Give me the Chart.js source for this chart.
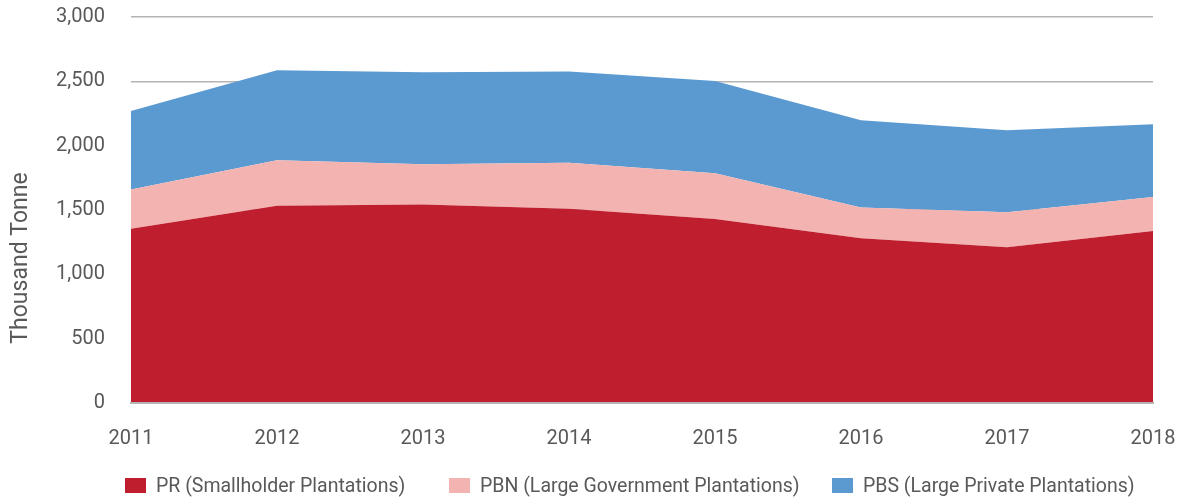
<!DOCTYPE html>
<html lang="en">
<head>
<meta charset="UTF-8">
<title>Palm oil production by plantation type</title>
<script src="https://cdn.jsdelivr.net/npm/chart.js"></script>
<style>
    body { margin: 0; background: #fff; font-family: Roboto, sans-serif; }
    .wrap { position: relative; width: 1181px; height: 501px; }
    .legend { position: absolute; top: 475px; left: 0; width: 1181px; height: 22px; }
    .legend span.item { position: absolute; top: 0; white-space: nowrap; font-size: 19.5px; color: #595959; line-height: 22px; }
    .legend span.box { display: inline-block; width: 21px; height: 15px; vertical-align: -1px; margin-right: 10px; }
</style>
</head>
<body>
<div class="wrap">
    <canvas id="chart" width="1181" height="501"></canvas>
    <div class="legend" id="legend"></div>
</div>
<script>
// values (thousand tonne)
const years = ['2011', '2012', '2013', '2014', '2015', '2016', '2017', '2018'];
const pr  = [1354, 1533, 1543, 1510, 1430, 1281, 1211, 1336];
const pbn = [306, 353, 313, 357, 355, 239, 272, 266];
const pbs = [609, 701, 714, 710, 717, 678, 637, 565];
const seriesNames = ['PR (Smallholder Plantations)', 'PBN (Large Government Plantations)', 'PBS (Large Private Plantations)'];
const colors = ['#BE1E2D', '#F3B3B0', '#5B9AD1'];
const legendLeft = [125, 449, 832];

const textColor = '#595959';

// y axis title, drawn off-centre like the original
const yTitle = {
    id: 'yTitle',
    afterDraw(chart) {
        const ctx = chart.ctx;
        ctx.save();
        ctx.translate(21, 258);
        ctx.rotate(-Math.PI / 2);
        ctx.font = '23px Roboto';
        ctx.fillStyle = textColor;
        ctx.textAlign = 'center';
        ctx.textBaseline = 'middle';
        ctx.fillText('Thousand Tonne', 0, 0);
        ctx.restore();
    }
};

const chart = new Chart(document.getElementById('chart'), {
    type: 'line',
    data: {
        labels: years,
        datasets: [
            { label: seriesNames[0], data: pr,  backgroundColor: colors[0], fill: 'origin' },
            { label: seriesNames[1], data: pbn, backgroundColor: colors[1], fill: '-1' },
            { label: seriesNames[2], data: pbs, backgroundColor: colors[2], fill: '-1' }
        ]
    },
    options: {
        responsive: false,
        animation: false,
        elements: {
            line: { borderWidth: 0, tension: 0 },
            point: { radius: 0 }
        },
        layout: { padding: 0 },
        plugins: {
            legend: { display: false },
            tooltip: { enabled: false }
        },
        scales: {
            x: {
                offset: false,
                grid: { display: false, drawTicks: false },
                border: { display: true, color: '#b4b4b4', width: 2, z: 1 },
                ticks: { color: textColor, font: { family: 'Roboto', size: 20 }, padding: 24, maxRotation: 0 },
                afterFit(scale) {
                    scale.height = 98;
                    scale.paddingLeft = 0;
                    scale.paddingRight = 28;
                }
            },
            y: {
                stacked: true,
                min: 0,
                max: 3000,
                grid: { color: '#b4b4b4', lineWidth: 1.5, drawTicks: false },
                border: { display: false },
                ticks: { stepSize: 500, color: textColor, font: { family: 'Roboto', size: 20 }, padding: 26 },
                afterFit(scale) {
                    scale.width = 131;
                    scale.paddingTop = 17;
                    scale.paddingBottom = 0;
                }
            }
        }
    },
    plugins: [yTitle]
});

// legend built from the dataset names and colours
const legend = document.getElementById('legend');
chart.data.datasets.forEach((ds, i) => {
    const item = document.createElement('span');
    item.className = 'item';
    item.style.left = legendLeft[i] + 'px';
    const box = document.createElement('span');
    box.className = 'box';
    box.style.background = ds.backgroundColor;
    item.appendChild(box);
    item.appendChild(document.createTextNode(ds.label));
    legend.appendChild(item);
});
</script>
</body>
</html>
